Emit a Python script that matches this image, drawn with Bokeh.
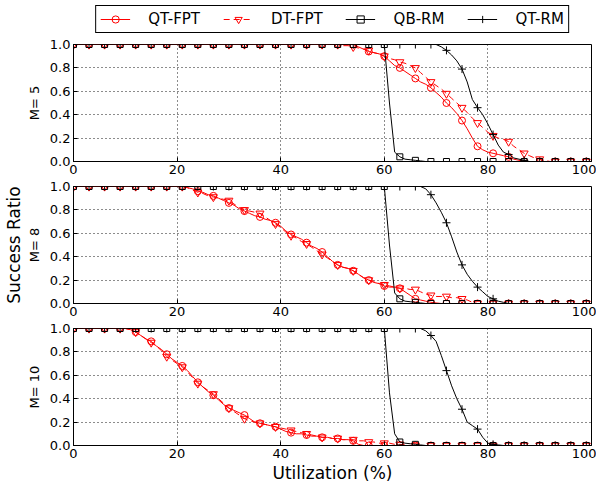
from bokeh.plotting import figure
from bokeh.layouts import column
from bokeh.models import Legend, LegendItem, FixedTicker, Title, NumeralTickFormatter, Range1d
from bokeh.embed import file_html
from bokeh.resources import INLINE

FONT = "DejaVu Sans"

# ---------------- data ----------------
utilization = list(range(0, 100))          # x grid (%), markers every 3rd point
x_ticks = [0, 20, 40, 60, 80, 100]
y_ticks = [0.0, 0.2, 0.4, 0.6, 0.8, 1.0]
series_names = ["QT-FPT", "DT-FPT", "QB-RM", "QT-RM"]
panel_labels = ["M= 5", "M= 8", "M= 10"]


def pad(vals):
    return (vals + [0.0] * 100)[:100]


# M = 5
m5_qt_fpt = pad([1.0] * 54 + [1.0, 0.98, 0.96, 0.94, 0.93, 0.92, 0.90, 0.86, 0.82, 0.80, 0.77, 0.74,
                              0.71, 0.68, 0.66, 0.63, 0.59, 0.55, 0.50, 0.46, 0.41, 0.35, 0.28, 0.20,
                              0.13, 0.10, 0.08, 0.07, 0.06, 0.05, 0.04, 0.02, 0.01])
m5_dt_fpt = pad([1.0] * 51 + [1.0, 0.99, 0.99, 0.98, 0.97, 0.96, 0.95, 0.93, 0.92, 0.90, 0.88, 0.87,
                              0.85, 0.84, 0.82, 0.80, 0.76, 0.72, 0.68, 0.65, 0.62, 0.58, 0.54, 0.50,
                              0.46, 0.42, 0.37, 0.33, 0.29, 0.25, 0.22, 0.20, 0.19, 0.17, 0.13, 0.10,
                              0.07, 0.05, 0.03, 0.02, 0.01])
m5_qb_rm = pad([1.0] * 61 + [0.50, 0.08, 0.04, 0.02, 0.015, 0.01, 0.005])
m5_qt_rm = pad([1.0] * 71 + [0.98, 0.95, 0.91, 0.86, 0.79, 0.68, 0.53, 0.46, 0.40, 0.32, 0.23, 0.14,
                             0.08, 0.06, 0.03, 0.02, 0.01])

# M = 8
m8_qt_fpt = pad([1.0] * 22 + [0.99, 0.98, 0.96, 0.95, 0.93, 0.92, 0.90, 0.88, 0.86, 0.84, 0.81, 0.79,
                              0.77, 0.75, 0.74, 0.72, 0.71, 0.69, 0.66, 0.62, 0.59, 0.57, 0.55, 0.52,
                              0.49, 0.47, 0.44, 0.40, 0.36, 0.33, 0.31, 0.30, 0.28, 0.25, 0.22, 0.20,
                              0.18, 0.17, 0.15, 0.14, 0.14, 0.13, 0.10, 0.07, 0.04, 0.03, 0.02, 0.01,
                              0.005])
m8_dt_fpt = pad([1.0] * 22 + [0.99, 0.97, 0.95, 0.94, 0.92, 0.91, 0.90, 0.89, 0.88, 0.85, 0.82, 0.80,
                              0.79, 0.78, 0.77, 0.74, 0.71, 0.68, 0.65, 0.61, 0.58, 0.56, 0.53, 0.51,
                              0.48, 0.45, 0.42, 0.39, 0.36, 0.33, 0.31, 0.30, 0.28, 0.25, 0.22, 0.20,
                              0.19, 0.17, 0.16, 0.15, 0.14, 0.13, 0.13, 0.12, 0.12, 0.10, 0.08, 0.07,
                              0.06, 0.06, 0.06, 0.05, 0.05, 0.04, 0.03, 0.01])
m8_qb_rm = pad([1.0] * 61 + [0.50, 0.09, 0.04, 0.02, 0.015, 0.01, 0.005])
m8_qt_rm = pad([1.0] * 68 + [0.98, 0.93, 0.86, 0.78, 0.69, 0.57, 0.44, 0.33, 0.25, 0.19, 0.14, 0.10,
                             0.06, 0.04, 0.02, 0.01])

# M = 10
m10_qt_fpt = pad([1.0] * 11 + [0.99, 0.97, 0.94, 0.91, 0.89, 0.85, 0.82, 0.78, 0.74, 0.71, 0.68, 0.64,
                               0.59, 0.54, 0.50, 0.46, 0.43, 0.39, 0.35, 0.32, 0.30, 0.28, 0.26, 0.23,
                               0.20, 0.19, 0.18, 0.17, 0.16, 0.14, 0.12, 0.11, 0.10, 0.10, 0.09, 0.08,
                               0.08, 0.07, 0.07, 0.06, 0.06, 0.05, 0.05, 0.04, 0.01])
m10_dt_fpt = pad([1.0] * 11 + [0.99, 0.97, 0.94, 0.91, 0.88, 0.85, 0.81, 0.76, 0.73, 0.70, 0.67, 0.63,
                               0.58, 0.53, 0.50, 0.47, 0.44, 0.40, 0.36, 0.32, 0.29, 0.26, 0.23, 0.21,
                               0.20, 0.19, 0.18, 0.17, 0.16, 0.15, 0.14, 0.13, 0.12, 0.11, 0.10, 0.09,
                               0.08, 0.07, 0.07, 0.06, 0.06, 0.05, 0.05, 0.05, 0.04, 0.04, 0.03, 0.03,
                               0.02, 0.02, 0.02, 0.01, 0.01, 0.005])
m10_qb_rm = pad([1.0] * 61 + [0.45, 0.10, 0.03, 0.02, 0.015, 0.01, 0.005])
m10_qt_rm = pad([1.0] * 68 + [0.98, 0.94, 0.89, 0.77, 0.64, 0.51, 0.40, 0.31, 0.20, 0.17, 0.14, 0.07,
                              0.02, 0.01, 0.005])

panels = [
    [m5_qt_fpt, m5_dt_fpt, m5_qb_rm, m5_qt_rm],
    [m8_qt_fpt, m8_dt_fpt, m8_qb_rm, m8_qt_rm],
    [m10_qt_fpt, m10_dt_fpt, m10_qb_rm, m10_qt_rm],
]

# ---------------- styles ----------------
styles = [
    dict(color="#ff0000", dash="solid", marker="circle", size=7),
    dict(color="#ff0000", dash="6 4", marker="inverted_triangle", size=8),
    dict(color="#000000", dash="solid", marker="square", size=6),
    dict(color="#000000", dash="solid", marker="cross", size=8),
]

FRAME_H = 117
LEFT, RIGHT = 73, 5
FIG_W = LEFT + 518 + RIGHT
borders = [(11, 18), (7, 18), (7, 40)]

# ---------------- legend strip ----------------
# The M=5 series are drawn again here, outside the visible y range, only so that the
# legend has renderers with data to draw its sample glyphs from.
leg_fig = figure(width=FIG_W, height=33, x_range=Range1d(0, 100), y_range=Range1d(5, 6),
                 output_backend="svg", toolbar_location=None,
                 x_axis_type=None, y_axis_type=None,
                 min_border_left=LEFT, min_border_right=RIGHT, min_border_top=5,
                 min_border_bottom=0,
                 background_fill_color="white", border_fill_color="white")
leg_fig.outline_line_color = None
leg_fig.grid.visible = False
legend_items = []
for j, st in enumerate(styles):
    ys = panels[0][j]
    ln = leg_fig.line(utilization, ys, line_color=st["color"], line_width=1, line_dash=st["dash"])
    mk = leg_fig.scatter(utilization[::3], ys[::3], marker=st["marker"], size=st["size"],
                         line_color=st["color"], fill_color=None, line_width=1)
    legend_items.append(LegendItem(label=series_names[j], renderers=[ln, mk]))
legend = Legend(items=legend_items, orientation="horizontal", location="top_center",
                margin=0, padding=4, spacing=23, glyph_width=30, glyph_height=18,
                label_standoff=18, label_height=18,
                label_text_font=FONT, label_text_font_size="15px", label_text_color="black",
                border_line_color="black", border_line_width=1, border_line_alpha=1,
                background_fill_color="white", background_fill_alpha=1)
leg_fig.add_layout(legend, "center")

figs = [leg_fig]
for i, series in enumerate(panels):
    top, bottom = borders[i]
    p = figure(width=FIG_W, height=top + FRAME_H + bottom,
               x_range=Range1d(0, 100), y_range=Range1d(0, 1),
               output_backend="svg", toolbar_location=None,
               min_border_left=LEFT, min_border_right=RIGHT,
               min_border_top=top, min_border_bottom=bottom,
               background_fill_color="white", border_fill_color="white")
    p.outline_line_color = "black"
    p.outline_line_width = 1
    p.outline_line_alpha = 1

    xax = p.xaxis[0]
    yax = p.yaxis[0]
    for ax in (xax, yax):
        ax.major_tick_in = 4
        ax.major_tick_out = 0
        ax.minor_tick_in = 0
        ax.minor_tick_out = 0
        ax.axis_line_color = "black"
        ax.major_tick_line_color = "black"
        ax.major_label_text_font = FONT
        ax.major_label_text_font_size = "13px"
        ax.major_label_text_color = "black"
        ax.major_label_standoff = 3
    xax.ticker = FixedTicker(ticks=x_ticks)
    yax.ticker = FixedTicker(ticks=y_ticks)
    yax.formatter = NumeralTickFormatter(format="0.0")
    yax.axis_label = panel_labels[i]
    yax.axis_label_text_font = FONT
    yax.axis_label_text_font_size = "13px"
    yax.axis_label_text_font_style = "normal"
    yax.axis_label_text_color = "black"
    yax.axis_label_standoff = 5

    p.xgrid.ticker = FixedTicker(ticks=x_ticks)
    p.ygrid.ticker = FixedTicker(ticks=y_ticks)
    p.grid.grid_line_color = "black"
    p.grid.grid_line_dash = "1 3"
    p.grid.grid_line_width = 1
    p.grid.grid_line_alpha = 0.9

    for j, ys in enumerate(series):
        st = styles[j]
        p.line(utilization, ys, line_color=st["color"], line_width=1, line_dash=st["dash"])
        p.scatter(utilization[::3], ys[::3], marker=st["marker"], size=st["size"],
                  line_color=st["color"], fill_color=None, line_width=1)

    if i == 2:
        xax.axis_label = "Utilization (%)"
        xax.axis_label_text_font = FONT
        xax.axis_label_text_font_size = "17px"
        xax.axis_label_text_font_style = "normal"
        xax.axis_label_text_color = "black"
        xax.axis_label_standoff = 2
    if i == 1:
        p.add_layout(Title(text="Success Ratio", align="center", text_font=FONT,
                           text_font_size="17px", text_font_style="normal",
                           text_color="black", standoff=0), "left")
    figs.append(p)

layout = column(*figs, spacing=0)
open("out.html", "w").write(file_html(layout, INLINE))
